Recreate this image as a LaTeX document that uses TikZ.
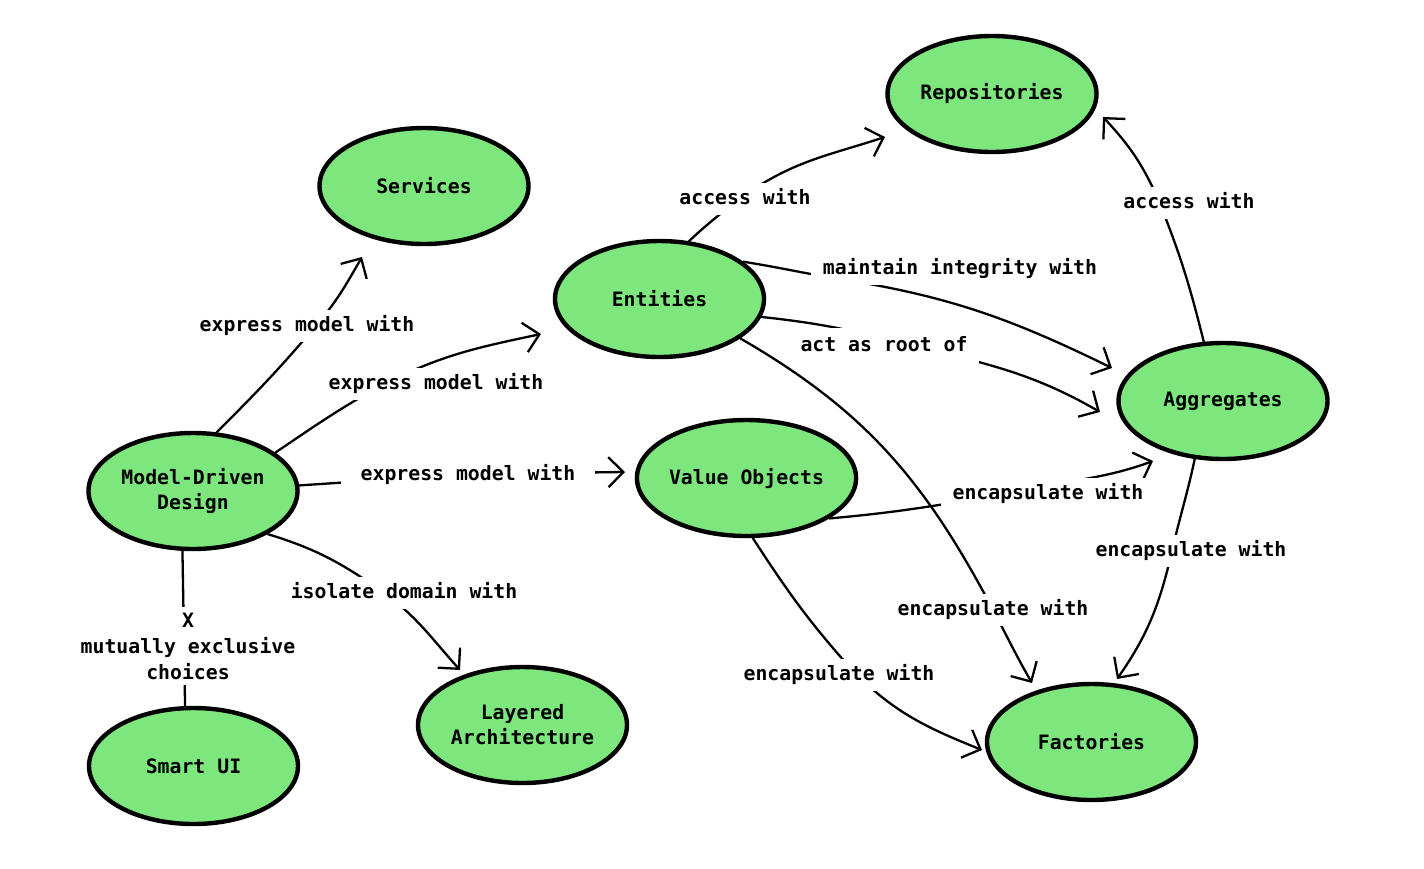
\documentclass[tikz,border=0pt]{standalone}
\usepackage{fontspec}
\newfontfamily\diagfont{DejaVu Sans Mono}
\usetikzlibrary{arrows.meta,shapes.geometric}
\definecolor{nodegreen}{RGB}{125,230,124}
\begin{document}
\begin{tikzpicture}[x=1pt,y=1pt,
  txt/.style={font=\diagfont\bfseries\fontsize{19.8pt}{25pt}\selectfont},
  concept/.style={txt, ellipse, draw=black, line width=4.4pt, fill=nodegreen,
    minimum width=209pt, minimum height=116pt, inner sep=0pt, align=center},
  lbl/.style={txt, fill=white, inner xsep=12pt, inner ysep=6pt, text height=15pt, text depth=5pt},
  lblm/.style={txt, fill=white, inner xsep=12pt, inner ysep=6pt, align=center,
    font=\diagfont\bfseries\fontsize{19.8pt}{26pt}\selectfont},
  conn/.style={line width=2.3pt, line cap=round},
  arr/.style={conn, -{Straight Barb[length=15pt,width=30pt,line width=2.3pt]}}]
\useasboundingbox (0,0) rectangle (1424,-868);

% concept nodes
\node[concept] (repo)  at (992,-94)   {Repositories};
\node[concept] (svc)   at (424,-186)  {Services};
\node[concept] (ent)   at (659.5,-299) {Entities};
\node[concept] (agg)   at (1223,-401) {Aggregates};
\node[concept] (mdd)   at (193,-491)  {Model-Driven\\Design};
\node[concept] (vo)    at (746.5,-478) {Value Objects};
\node[concept] (lay)   at (522.5,-725) {Layered\\Architecture};
\node[concept] (smart) at (193.5,-766) {Smart UI};
\node[concept] (fac)   at (1091.5,-742) {Factories};

% waypoints and arrow tips
\coordinate (w1) at (319,-322);   \coordinate (t1) at (362,-257);
\coordinate (w2) at (390,-381);   \coordinate (t2) at (541,-334);
\coordinate (w3) at (469,-474);   \coordinate (t3) at (625,-472);
\coordinate (w4) at (380,-590);   \coordinate (t4) at (460,-670);
\coordinate (w6) at (745,-195);   \coordinate (t6) at (885,-137);
\coordinate (w7) at (840,-279);   \coordinate (t7) at (1112,-368);
\coordinate (w8) at (907,-344);   \coordinate (t8) at (1100,-412);
\coordinate (w9) at (991,-606);   \coordinate (t9) at (1032,-683);
\coordinate (w10) at (1031,-489); \coordinate (t10) at (1153,-461);
\coordinate (w11) at (854,-672);  \coordinate (t11) at (982,-750);
\coordinate (w12) at (1158,-199); \coordinate (t12) at (1103,-117);
\coordinate (w13) at (1173,-547); \coordinate (t13) at (1117,-679);

% connectors
\draw[arr] (mdd.68) to[out=45,in=230] (w1) to[out=50,in=240] (t1);
\draw[arr] (mdd.25) to[out=34,in=208] (w2) to[out=26,in=192] (t2);
\draw[arr] (mdd.3) -- (w3) -- (t3);
\draw[arr] (mdd.-30) to[out=-17,in=145] (w4) to[out=-35,in=132] (t4);
\draw[conn] (mdd.-100) -- (smart.98);
\draw[arr] (ent.63) to[out=43,in=217] (w6) to[out=35,in=198] (t6);
\draw[arr] (ent.24) to[out=-9,in=171] (w7) to[out=-9,in=154] (t7);
\draw[arr] (ent.-10) to[out=-6,in=166] (w8) to[out=-14,in=150] (t8);
\draw[arr] (ent.-26) to[out=-30,in=118] (w9) to[out=-62,in=120] (t9);
\draw[arr] (vo.-26) to[out=5,in=190] (w10) to[out=12,in=200] (t10);
\draw[arr] (vo.-84) to[out=-57,in=132] (w11) to[out=-45,in=158] (t11);
\draw[arr] (agg.108) to[out=104,in=292] (w12) to[out=114,in=313] (t12);
\draw[arr] (agg.-116) to[out=-102,in=77] (w13) to[out=-103,in=55] (t13);

% labels
\node[lbl] (l1) at (307,-326) {express model with};
\node[lbl] (l2) at (436,-384) {express model with};
\node[lbl, inner xsep=20pt] (l3) at (468,-475) {express model with};
\node[lbl] (l4) at (404,-593) {isolate domain with};
\node[lblm] (l5) at (188,-646) {X\\mutually exclusive\\choices};
\node[lbl] (l6) at (745,-199) {access with};
\node[lbl] (l7) at (960,-269) {maintain integrity with};
\node[lbl, inner ysep=8pt] (l8) at (884,-346) {act as root of};
\node[lbl] (l9) at (993,-610) {encapsulate with};
\node[lbl] (l10) at (1048,-494) {encapsulate with};
\node[lbl] (l11) at (839,-675) {encapsulate with};
\node[lbl] (l12) at (1189,-203) {access with};
\node[lbl] (l13) at (1191,-551) {encapsulate with};
\end{tikzpicture}
\end{document}
